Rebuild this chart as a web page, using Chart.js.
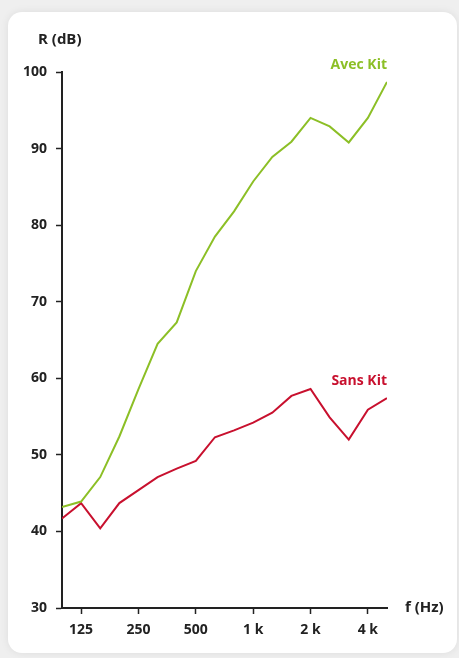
<!DOCTYPE html>
<html>
<head>
<meta charset="utf-8">
<script src="https://cdn.jsdelivr.net/npm/chart.js@4.4.1/dist/chart.umd.min.js"></script>
<style>
  html, body { margin: 0; padding: 0; }
  body { width: 459px; height: 658px; background: #efefef; position: relative; overflow: hidden; font-family: "Open Sans", sans-serif; }
  .card { position: absolute; left: 8px; top: 12px; width: 449px; height: 641px; background: #fff; border-radius: 14px; box-shadow: 0 0 8px rgba(0,0,0,0.08); }
  .wrap { position: absolute; left: 0; top: 0; width: 459px; height: 658px; }
</style>
</head>
<body>
<div class="card"></div>
<div class="wrap"><canvas id="chart"></canvas></div>
<script>
// third-octave bands, 100 Hz .. 5 kHz
const bands = ["100", "125", "160", "200", "250", "315", "400", "500", "630", "800", "1 k", "1.25 k", "1.6 k", "2 k", "2.5 k", "3.15 k", "4 k", "5 k"];
const tickBands = [1, 4, 7, 10, 13, 16];
const avecKit = [43.2, 43.9, 47.1, 52.4, 58.6, 64.5, 67.3, 74.0, 78.5, 81.8, 85.7, 88.9, 90.9, 94.0, 92.9, 90.8, 94.0, 98.7];
const sansKit = [41.7, 43.7, 40.4, 43.7, 45.4, 47.1, 48.2, 49.2, 52.3, 53.2, 54.2, 55.5, 57.7, 58.6, 54.9, 52.0, 55.9, 57.4];
const yTicks = [30, 40, 50, 60, 70, 80, 90, 100];

const GREEN = '#8cbf26';
const RED = '#c8102e';
const INK = '#222';
const FONT = '"Open Sans", sans-serif';

const toPoints = arr => arr.map((v, i) => ({ x: i, y: v }));

// axis titles and series labels
const labelsPlugin = {
    id: 'labels',
    afterDraw(chart) {
        const ctx = chart.ctx;
        const xs = chart.scales.x, ys = chart.scales.y;
        ctx.save();
        ctx.textBaseline = 'middle';
        ctx.font = 'bold 15px ' + FONT;
        ctx.fillStyle = INK;
        ctx.textAlign = 'left';
        ctx.fillText('R (dB)', 38, 40);
        ctx.fillText('f (Hz)', xs.right + 18, ys.bottom);

        ctx.font = 'bold 14px ' + FONT;
        ctx.textAlign = 'right';
        const last = bands.length - 1;
        ctx.fillStyle = GREEN;
        ctx.fillText('Avec Kit', xs.getPixelForValue(last), ys.getPixelForValue(avecKit[last]) - 17);
        ctx.fillStyle = RED;
        ctx.fillText('Sans Kit', xs.getPixelForValue(last), ys.getPixelForValue(sansKit[last]) - 17);
        ctx.restore();
    }
};

new Chart(document.getElementById('chart'), {
    type: 'line',
    data: {
        datasets: [
            { label: 'Avec Kit', data: toPoints(avecKit), borderColor: GREEN, borderWidth: 2, pointRadius: 0, tension: 0 },
            { label: 'Sans Kit', data: toPoints(sansKit), borderColor: RED, borderWidth: 2, pointRadius: 0, tension: 0 }
        ]
    },
    options: {
        responsive: true,
        maintainAspectRatio: false,
        animation: false,
        layout: { padding: { left: 0, top: 72, right: 72, bottom: 0 } },
        plugins: { legend: { display: false }, tooltip: { enabled: false } },
        scales: {
            x: {
                type: 'linear',
                min: 0,
                max: bands.length - 1,
                afterBuildTicks: axis => { axis.ticks = tickBands.map(v => ({ value: v })); },
                afterFit: axis => { axis.height = 50; },
                ticks: {
                    callback: v => bands[v],
                    color: INK,
                    font: { family: FONT, size: 14, weight: 'bold' },
                    padding: 8,
                    maxRotation: 0,
                    autoSkip: false
                },
                grid: { drawOnChartArea: false, drawTicks: true, tickLength: 6, tickColor: INK, tickWidth: 1.5 },
                border: { color: INK, width: 2 }
            },
            y: {
                min: 30,
                max: 100,
                afterBuildTicks: axis => { axis.ticks = yTicks.map(v => ({ value: v })); },
                afterFit: axis => { axis.width = 62; },
                ticks: {
                    color: INK,
                    font: { family: FONT, size: 14, weight: 'bold' },
                    padding: 9
                },
                grid: { drawOnChartArea: false, drawTicks: true, tickLength: 6, tickColor: INK, tickWidth: 1.5 },
                border: { color: INK, width: 2 }
            }
        }
    },
    plugins: [labelsPlugin]
});
</script>
</body>
</html>
